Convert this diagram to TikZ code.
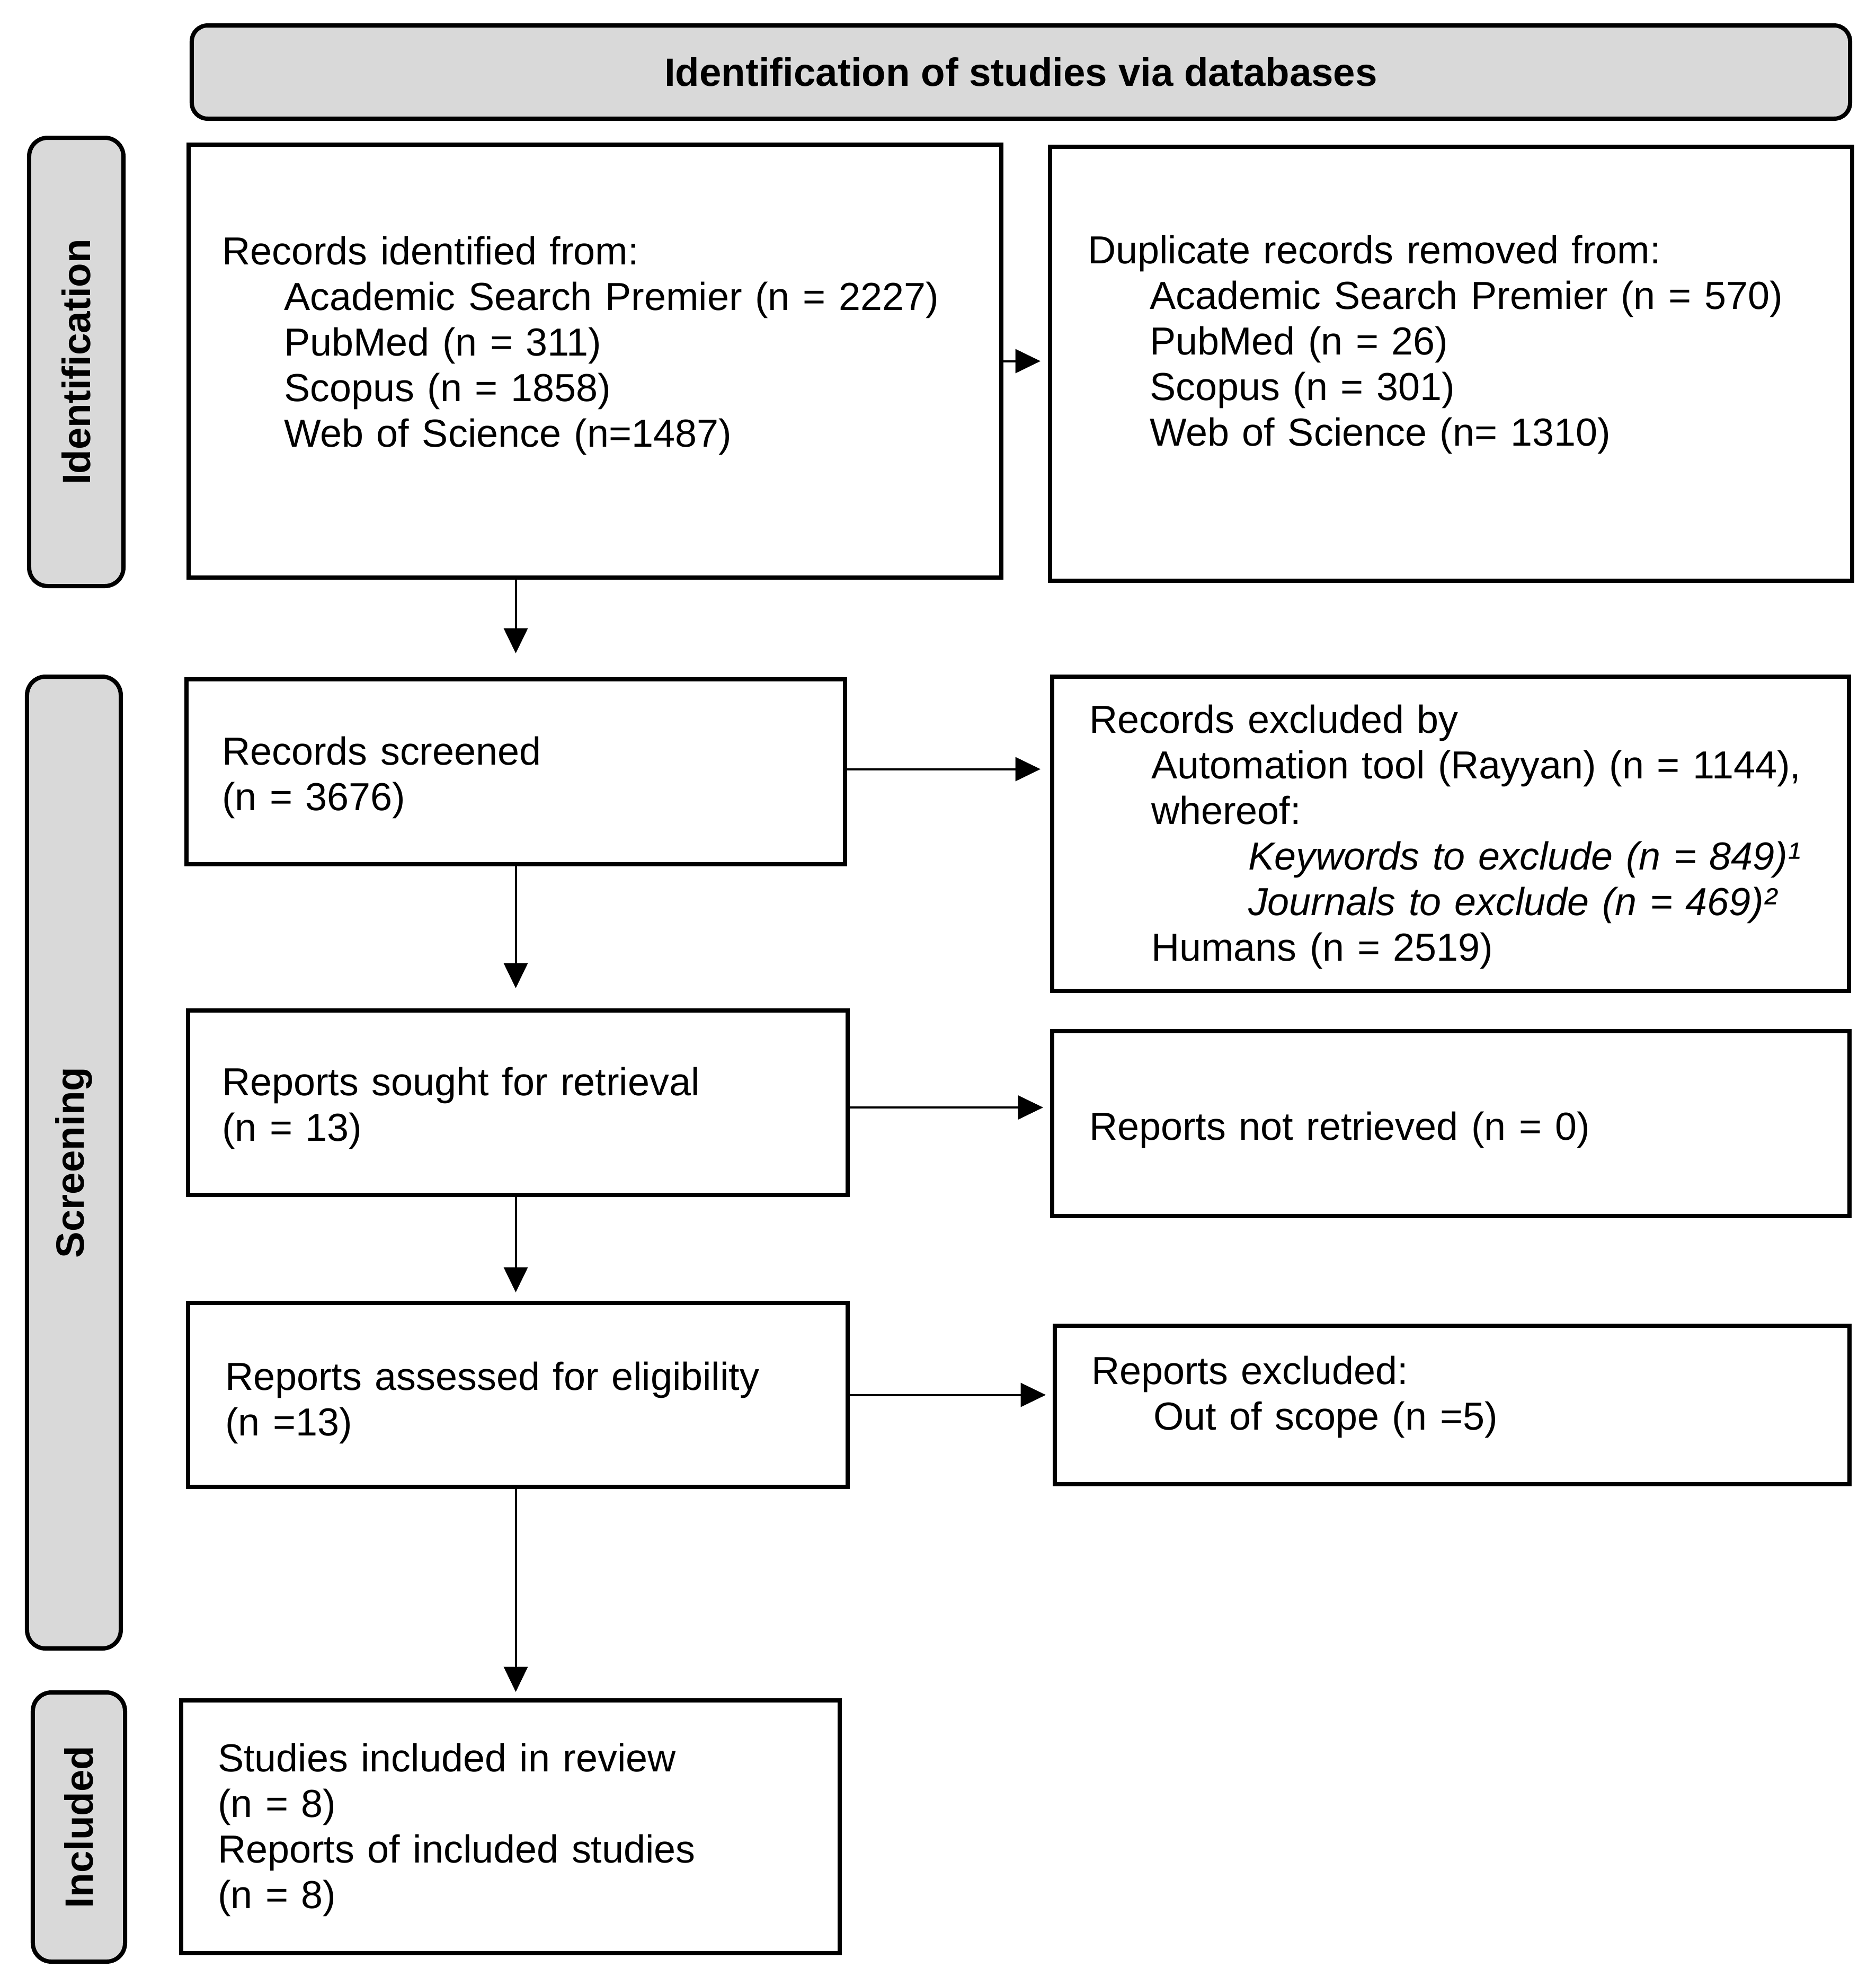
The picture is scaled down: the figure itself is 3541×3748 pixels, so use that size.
\documentclass[tikz,border=0pt]{standalone}
\usepackage{fontspec}
\setmainfont{Liberation Sans}
\usetikzlibrary{arrows.meta}
\definecolor{labgray}{HTML}{D9D9D9}
\begin{document}
\begin{tikzpicture}[x=0.2pt,y=-0.2pt,
  every node/.style={font=\fontsize{14.75pt}{17.2pt}\selectfont},
  frame/.style={draw, line width=1.6pt, inner sep=0pt},
  hdr/.style={draw, line width=1.6pt, fill=labgray, rounded corners=6pt, inner sep=0pt,
              font=\fontsize{14.9pt}{17.2pt}\selectfont\bfseries},
  phase/.style={draw, line width=1.6pt, fill=labgray, rounded corners=7pt, rotate=90, inner sep=0pt,
              font=\fontsize{14.9pt}{17.2pt}\selectfont\bfseries},
  txt/.style={anchor=base west, inner sep=0pt, align=left},
  arr/.style={line width=0.8pt, -{Triangle[length=9.5pt,width=9pt]}}
]
\path[use as bounding box, fill=white] (0,0) rectangle (3541,3748);

% header and phase labels
\node[hdr, minimum width=626pt, minimum height=35.2pt] (hdr) at (1927,136) {Identification of studies via databases};
\node[phase, minimum width=169.2pt, minimum height=35.6pt] (idlab) at (144,683) {Identification};
\node[phase, minimum width=366.8pt, minimum height=35.4pt] (scrlab) at (139.5,2194) {Screening};
\node[phase, minimum width=101.6pt, minimum height=34.8pt] (inclab) at (149,3448) {Included};

% boxes
\node[frame, minimum width=306.8pt, minimum height=163.4pt] (b1) at (1123,681.5) {};
\node[frame, minimum width=302.8pt, minimum height=163.8pt] (b2) at (2739,686.5) {};
\node[frame, minimum width=248.6pt, minimum height=69.8pt] (b3) at (973.5,1456.5) {};
\node[frame, minimum width=300.8pt, minimum height=118.6pt] (b4) at (2738,1573.5) {};
\node[frame, minimum width=249pt, minimum height=69.6pt] (b5) at (977.5,2081) {};
\node[frame, minimum width=301pt, minimum height=69.8pt] (b6) at (2738.5,2120.5) {};
\node[frame, minimum width=249pt, minimum height=69.4pt] (b7) at (977.5,2632.5) {};
\node[frame, minimum width=300pt, minimum height=59.8pt] (b8) at (2741,2651.5) {};
\node[frame, minimum width=248.6pt, minimum height=95.4pt] (b9) at (963.5,3447.5) {};

% texts
\node[txt, text width=295pt] (t1) at (418,499) {Records identified from:\\
\hspace*{23.4pt}Academic Search Premier (n = 2227)\\
\hspace*{23.4pt}PubMed (n = 311)\\
\hspace*{23.4pt}Scopus (n = 1858)\\
\hspace*{23.4pt}Web of Science (n=1487)};
\node[txt, text width=290pt] (t2) at (2052,497) {Duplicate records removed from:\\
\hspace*{23.4pt}Academic Search Premier (n = 570)\\
\hspace*{23.4pt}PubMed (n = 26)\\
\hspace*{23.4pt}Scopus (n = 301)\\
\hspace*{23.4pt}Web of Science (n= 1310)};
\node[txt, text width=230pt] (t3) at (418,1443) {Records screened\\(n = 3676)};
\node[txt, text width=288pt] (t4) at (2055,1383) {Records excluded by\\
\hspace*{23.4pt}Automation tool (Rayyan) (n = 1144),\\
\hspace*{23.4pt}whereof:\\
\hspace*{60pt}\textit{Keywords to exclude (n = 849)¹}\\
\hspace*{60pt}\textit{Journals to exclude (n = 469)²}\\
\hspace*{23.4pt}Humans (n = 2519)};
\node[txt, text width=230pt] (t5) at (418,2067) {Reports sought for retrieval\\(n = 13)};
\node[txt, text width=285pt] (t6) at (2055,2151) {Reports not retrieved (n = 0)};
\node[txt, text width=230pt] (t7) at (424,2623) {Reports assessed for eligibility\\(n =13)};
\node[txt, text width=285pt] (t8) at (2059,2612) {Reports excluded:\\
\hspace*{23.4pt}Out of scope (n =5)};
\node[txt, text width=230pt] (t9) at (410,3343) {Studies included in review\\(n = 8)\\Reports of included studies\\(n = 8)};

% connectors
\draw[arr, shorten >=2.8pt] (b1.east) -- (b1.east -| b2.west);
\draw[arr, shorten >=9pt] (b1.south -| b3.north) -- (b3.north);
\draw[arr, shorten >=3.6pt] ([yshift=1pt]b3.east) -- ([yshift=1pt]b3.east -| b4.west);
\draw[arr, shorten >=7.6pt] (b3.south) -- (b3.south |- b5.north);
\draw[arr, shorten >=2.6pt] ([yshift=-1.8pt]b5.east) -- ([yshift=-1.8pt]b5.east -| b6.west);
\draw[arr, shorten >=3.2pt] (b5.south -| b3.south) -- (b7.north -| b3.south);
\draw[arr, shorten >=2.6pt] (b7.east) -- (b7.east -| b8.west);
\draw[arr, shorten >=2.4pt] (b7.south -| b3.south) -- (b9.north -| b3.south);
\end{tikzpicture}
\end{document}
